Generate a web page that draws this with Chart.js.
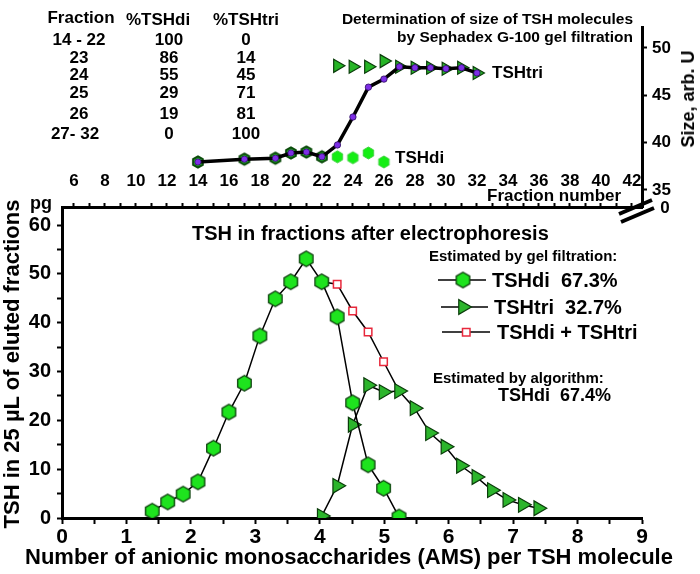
<!DOCTYPE html>
<html>
<head>
<meta charset="utf-8">
<script src="https://cdn.jsdelivr.net/npm/chart.js@4.4.1/dist/chart.umd.min.js"></script>
<style>
  html, body { margin: 0; padding: 0; background: #fff; }
  #wrap { position: relative; width: 700px; height: 574px; overflow: hidden; }
  #wrap canvas { position: absolute; left: 0; top: 0; }
  .t { position: absolute; font-family: "Liberation Sans", Arial, sans-serif; font-weight: bold;
       color: #000; line-height: 1; white-space: pre; }
</style>
</head>
<body>
<div id="wrap">
  <canvas id="main" width="700" height="574"></canvas>
  <canvas id="inset" width="700" height="574"></canvas>
</div>
<script>
// main panel: TSH (pg) vs number of anionic monosaccharides
const amsDi = [1.40, 1.64, 1.88, 2.11, 2.35, 2.59, 2.83, 3.07, 3.31, 3.55, 3.79, 4.03, 4.27, 4.51, 4.75, 4.99, 5.23];
const tshDi = [1.4, 3.3, 4.9, 7.4, 14.3, 21.7, 27.6, 37.3, 44.9, 48.4, 53.1, 48.4, 41.2, 23.6, 10.9, 6.1, 0.2];
const amsTri = [4.03, 4.27, 4.51, 4.75, 4.99, 5.23, 5.47, 5.71, 5.95, 6.19, 6.43, 6.67, 6.91, 7.15, 7.39];
const tshTri = [0.4, 6.6, 19.1, 27.2, 25.8, 26.0, 22.5, 17.4, 14.6, 10.7, 8.4, 5.7, 3.7, 2.7, 2.0];
const amsSum = [4.03, 4.27, 4.51, 4.75, 4.99, 5.23];
const tshSum = [48.4, 47.9, 42.4, 38.1, 32.0, 26.0];

// inset: gel filtration, size vs fraction number
const fracLine = [14, 17, 19, 20, 21, 22, 23, 24, 25, 26, 27, 28, 29, 30, 31, 32];
const sizeLine = [37.95, 38.25, 38.35, 38.9, 39.0, 38.5, 39.75, 42.7, 45.85, 46.7, 48.0, 47.9, 47.9, 47.8, 47.9, 47.35];
const fracDi = [14, 17, 19, 20, 21, 22, 23, 24, 25, 26];
const sizeDi = [37.95, 38.25, 38.35, 38.9, 39.0, 38.5, 38.5, 38.4, 38.9, 37.95];
const fracTri = [23, 24, 25, 26, 27, 28, 29, 30, 31, 32];
const sizeTri = [48.1, 48.0, 48.0, 48.6, 48.0, 47.9, 47.9, 47.8, 47.9, 47.35];

// table in the upper left corner
const tableFraction = ['14 - 22', '23', '24', '25', '26', '27- 32'];
const tablePctDi = ['100', '86', '55', '29', '19', '0'];
const tablePctTri = ['0', '14', '45', '71', '81', '100'];

// tick labels
const amsTicks = [0, 1, 2, 3, 4, 5, 6, 7, 8, 9];
const pgTicks = [0, 10, 20, 30, 40, 50, 60];
const fractionTicks = [6, 8, 10, 12, 14, 16, 18, 20, 22, 24, 26, 28, 30, 32, 34, 36, 38, 40, 42];
const sizeTicks = [35, 40, 45, 50];

const FONT = "'Liberation Sans', Arial, sans-serif";
const f = (size) => ({ family: FONT, size: size, weight: 'bold' });
const tickGrid = (len) => ({ drawOnChartArea: false, drawTicks: true, tickLength: len, tickWidth: 2, tickColor: '#000' });
const axisBorder = { display: true, color: '#000', width: 3 };

function makeHex(R, fill, stroke, lw) {
  const c = document.createElement('canvas');
  const w = Math.ceil(Math.sqrt(3) * R + lw * 2 + 2);
  const h = Math.ceil(2 * R + lw * 2 + 2);
  c.width = w; c.height = h;
  const g = c.getContext('2d');
  g.beginPath();
  for (let k = 0; k < 6; k++) {
    const a = Math.PI / 3 * k - Math.PI / 2;
    const px = w / 2 + R * Math.cos(a), py = h / 2 + R * Math.sin(a);
    if (k) g.lineTo(px, py); else g.moveTo(px, py);
  }
  g.closePath();
  g.fillStyle = fill; g.fill();
  if (lw > 0) { g.lineWidth = lw; g.strokeStyle = stroke; g.stroke(); }
  return c;
}

const hexMain = makeHex(7.8, '#1ee31e', '#0d3d0d', 1.3);
const hexInsetA = makeHex(5.6, '#22d022', '#0a4a0a', 2);
const hexInsetB = makeHex(6, '#14ee14', '#3fd33f', 1);

const pts = (xs, ys) => xs.map((x, i) => ({ x: x, y: ys[i] }));

// legend symbols
const decor = {
  id: 'decor',
  afterDraw(chart) {
    const ctx = chart.ctx;
    ctx.save();
    ctx.strokeStyle = '#000';
    ctx.lineWidth = 1.5;
    [[438, 486, 280], [441, 488, 307], [442, 490, 332]].forEach(([a, b, y]) => {
      ctx.beginPath(); ctx.moveTo(a, y); ctx.lineTo(b, y); ctx.stroke();
    });
    ctx.drawImage(hexMain, 463 - hexMain.width / 2, 280 - hexMain.height / 2);
    const r = 8.5, cx = 463, cy = 307;
    ctx.beginPath();
    for (let k = 0; k < 3; k++) {
      const a = k * 2 * Math.PI / 3;
      const px = cx + r * Math.cos(a), py = cy + r * Math.sin(a);
      if (k) ctx.lineTo(px, py); else ctx.moveTo(px, py);
    }
    ctx.closePath();
    ctx.fillStyle = '#2cb52c'; ctx.fill();
    ctx.lineWidth = 1.2; ctx.strokeStyle = '#0b3d0b'; ctx.stroke();
    ctx.fillStyle = '#fff'; ctx.strokeStyle = '#e8283c'; ctx.lineWidth = 1.5;
    ctx.fillRect(462.5, 328.5, 7.5, 7.5);
    ctx.strokeRect(462.5, 328.5, 7.5, 7.5);
    ctx.restore();
  }
};

// "//" on the corner where the two panels meet
const breakMarks = {
  id: 'breakMarks',
  afterDraw(chart) {
    const ctx = chart.ctx;
    ctx.save();
    ctx.strokeStyle = '#000';
    ctx.lineWidth = 4;
    ctx.beginPath(); ctx.moveTo(619, 214); ctx.lineTo(652, 200); ctx.stroke();
    ctx.beginPath(); ctx.moveTo(621, 222); ctx.lineTo(654, 208); ctx.stroke();
    ctx.restore();
  }
};

new Chart(document.getElementById('main'), {
  type: 'line',
  data: {
    datasets: [
      {
        label: 'TSHdi', data: pts(amsDi, tshDi), order: 1,
        borderColor: '#000', borderWidth: 1.5, pointStyle: hexMain
      },
      {
        label: 'TSHtri', data: pts(amsTri, tshTri), order: 2,
        borderColor: '#000', borderWidth: 1.5, pointStyle: 'triangle', pointRotation: 90,
        pointRadius: 8.5, pointBackgroundColor: '#2cb52c', pointBorderColor: '#0b3d0b', pointBorderWidth: 1.2
      },
      {
        label: 'TSHdi + TSHtri', data: pts(amsSum, tshSum), order: 3,
        borderColor: '#000', borderWidth: 1.5, pointStyle: 'rect',
        pointRadius: [0, 5.3, 5.3, 5.3, 5.3, 0], pointBackgroundColor: '#fff',
        pointBorderColor: '#e8283c', pointBorderWidth: 1.5
      }
    ]
  },
  options: {
    responsive: false,
    animation: false,
    layout: { padding: { left: 0, right: 58, top: 173, bottom: 0 } },
    plugins: { legend: { display: false }, tooltip: { enabled: false } },
    scales: {
      x: {
        type: 'linear', position: 'bottom', min: 0, max: 9,
        border: axisBorder, grid: tickGrid(6),
        ticks: {
          stepSize: 0.5, maxTicksLimit: 200, autoSkip: false, maxRotation: 0, padding: 1,
          color: '#000', font: f(21),
          callback: v => amsTicks.includes(v) ? String(v) : ''
        },
        afterFit: s => { s.height = 56; }
      },
      x2: {
        type: 'linear', position: 'top', min: 5.23, max: 42.65,
        border: axisBorder, grid: tickGrid(4),
        ticks: {
          stepSize: 1, maxTicksLimit: 200, includeBounds: false, autoSkip: false, maxRotation: 0,
          padding: 11, color: '#000', font: f(17),
          callback: v => fractionTicks.includes(v) ? String(v) : ''
        },
        afterFit: s => { s.height = 34; }
      },
      y: {
        type: 'linear', position: 'left', min: 0, max: 63.7,
        border: axisBorder, grid: tickGrid(5),
        ticks: {
          stepSize: 5, maxTicksLimit: 200, includeBounds: false, autoSkip: false, padding: 6,
          color: '#000', font: f(20),
          callback: v => pgTicks.includes(v) ? String(v) : ''
        },
        afterFit: s => { s.width = 62; }
      }
    }
  },
  plugins: [decor]
});

new Chart(document.getElementById('inset'), {
  type: 'line',
  data: {
    datasets: [
      {
        label: 'size', data: pts(fracLine, sizeLine), order: 0,
        borderColor: '#000', borderWidth: 3.5, pointStyle: 'circle', pointRadius: 3.2,
        pointBackgroundColor: '#7d2ee6', pointBorderColor: '#2b0b5c', pointBorderWidth: 0.8
      },
      {
        label: 'TSHdi', data: pts(fracDi, sizeDi), order: 1, showLine: false,
        pointStyle: [hexInsetA, hexInsetA, hexInsetA, hexInsetA, hexInsetA, hexInsetA,
                     hexInsetB, hexInsetB, hexInsetB, hexInsetB]
      },
      {
        label: 'TSHtri', data: pts(fracTri, sizeTri), order: 2, showLine: false,
        pointStyle: 'triangle', pointRotation: 90, pointRadius: 7.5,
        pointBackgroundColor: '#26b526', pointBorderColor: '#0b3d0b', pointBorderWidth: 1.2
      }
    ]
  },
  options: {
    responsive: false,
    animation: false,
    layout: { padding: { left: 62, right: 0, top: 27, bottom: 367 } },
    plugins: { legend: { display: false }, tooltip: { enabled: false } },
    scales: {
      x: { type: 'linear', display: false, min: 5.23, max: 42.65 },
      y: {
        type: 'linear', position: 'right', min: 33.2, max: 52.2,
        border: axisBorder, grid: tickGrid(5),
        ticks: {
          stepSize: 5, maxTicksLimit: 50, includeBounds: false, autoSkip: false, padding: 5,
          color: '#000', font: f(17),
          callback: v => sizeTicks.includes(v) ? String(v) : ''
        },
        afterFit: s => { s.width = 58; }
      }
    }
  },
  plugins: [breakMarks]
});

// text annotations
const wrap = document.getElementById('wrap');
function put(text, x, y, size, anchor, rotate) {
  const d = document.createElement('div');
  d.className = 't';
  d.textContent = text;
  d.style.fontSize = size + 'px';
  d.style.left = x + 'px';
  d.style.top = y + 'px';
  const tx = anchor === 'l' ? '0' : anchor === 'r' ? '-100%' : '-50%';
  d.style.transform = 'translate(' + tx + ',-50%)' + (rotate ? ' rotate(' + rotate + 'deg)' : '');
  wrap.appendChild(d);
}

// axis titles
put('Number of anionic monosaccharides (AMS) per TSH molecule', 349, 557, 22, 'c');
put('TSH in 25 µL of eluted fractions', 12, 364, 22, 'c', -90);

put('Fraction', 81, 17, 17, 'c');
put('%TSHdi', 158, 19, 17, 'c');
put('%TSHtri', 246, 19, 17, 'c');
const rowY = [39, 57, 74, 92, 113, 133];
tableFraction.forEach((s, i) => put(s, i === 5 ? 75 : 79, rowY[i], 17, 'c'));
tablePctDi.forEach((s, i) => put(s, 169, rowY[i], 17, 'c'));
tablePctTri.forEach((s, i) => put(s, 246, rowY[i], 17, 'c'));

put('Determination of size of TSH molecules', 633, 19, 15.5, 'r');
put('by Sephadex G-100 gel filtration', 633, 37, 15.5, 'r');
put('TSHtri', 492, 72, 17, 'l');
put('TSHdi', 395, 157, 17, 'l');
put('Fraction number', 487, 195, 17, 'l');
put('0', 665, 207, 17, 'c');
put('Size, arb. U', 688, 99, 18, 'c', -90);
put('pg', 41, 203, 18, 'c');

put('TSH in fractions after electrophoresis', 192, 233, 20, 'l');
put('Estimated by gel filtration:', 429, 255, 15, 'l');
put('TSHdi  67.3%', 492, 280, 20, 'l');
put('TSHtri  32.7%', 494, 307, 20, 'l');
put('TSHdi + TSHtri', 497, 332, 20, 'l');
put('Estimated by algorithm:', 433, 377, 15, 'l');
put('TSHdi  67.4%', 498, 395, 18, 'l');
</script>
</body>
</html>
